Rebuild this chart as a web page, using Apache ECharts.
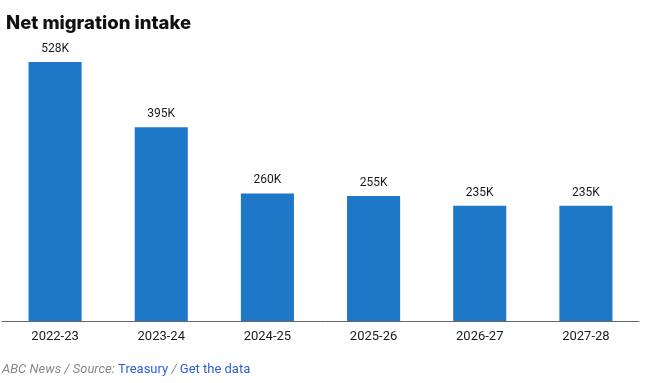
<!DOCTYPE html>
<html><head><meta charset="utf-8">
<script src="https://cdn.jsdelivr.net/npm/echarts@6/dist/echarts.min.js"></script>
<style>html,body{margin:0;padding:0;background:#fff}#c{width:645px;height:383px}</style>
</head><body><div id="c"></div>
<script>
const categories = ["2022-23","2023-24","2024-25","2025-26","2026-27","2027-28"];
const intake = [528, 395, 260, 255, 235, 235];
const chart = echarts.init(document.getElementById('c'), null, {renderer:'canvas'});
chart.setOption({
  animation:false,
  title:{text:"Net migration intake", left:1, top:9,
    textStyle:{fontFamily:"Inter", fontWeight:800, fontSize:18.5, color:"#111"}},
  grid:{left:2, right:6, top:62, bottom:62},
  xAxis:{type:'category', data:categories,
    axisLine:{lineStyle:{color:'#666', width:1}}, axisTick:{show:false},
    axisLabel:{color:'#1a1a1a', fontSize:13, fontFamily:"Roboto", margin:9}},
  yAxis:{type:'value', min:0, max:528, show:false, splitLine:{show:false}},
  series:[{type:'bar', data:intake, barWidth:'50%', itemStyle:{color:'#1f77c8'},
    label:{show:true, position:'top', distance:7, color:'#1a1a1a', fontSize:12, fontFamily:"Roboto",
      formatter:p=>p.value+'K'}}],
  graphic:[{type:'text', left:2, top:363, style:{
    rich:{g:{fill:'#888', fontStyle:'italic', fontSize:13, fontFamily:'Roboto'},
          b:{fill:'#2e5fd6', fontSize:13, fontFamily:'Roboto'}},
    text:'{g|ABC News / Source: }{b|Treasury}{g| / }{b|Get the data}'}}]
});
</script></body></html>
